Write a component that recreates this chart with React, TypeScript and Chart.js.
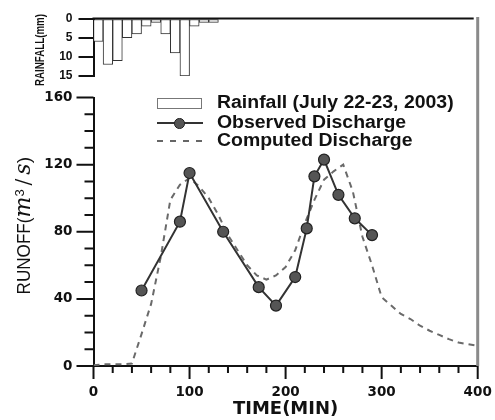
import React, { useEffect, useRef } from 'react';
import { Chart, registerables } from 'chart.js';

Chart.register(...registerables);

// ---- data ----
const rainTimes = [5, 15, 25, 35, 45, 55, 65, 75, 85, 95, 105, 115, 125];
const rainfall = [6, 12, 11, 5, 4, 2, 1, 4, 9, 15, 2, 1, 1];

const observedTimes = [50, 90, 100, 135, 172, 190, 210, 222, 230, 240, 255, 272, 290];
const observedRunoff = [45, 86, 115, 80, 47, 36, 53, 82, 113, 123, 102, 88, 78];

const computedTimes = [
  0, 10, 20, 30, 40, 50, 60, 70, 80, 90, 100, 110, 120, 130, 140, 150, 160, 170, 180, 190, 200,
  210, 220, 230, 240, 250, 260, 270, 280, 290, 300, 310, 320, 330, 340, 350, 360, 370, 380, 390, 400,
];
const computedRunoff = [
  0.5, 1, 1, 1, 1.5, 19, 37, 65, 99, 108, 112, 107, 100, 90, 78, 69, 60, 54, 51.5, 54, 59,
  69, 85, 99, 111, 116, 120, 104, 77, 60, 41, 36, 31, 28, 24, 21, 18.5, 16, 14, 13, 12,
];

const timeTicks = [0, 100, 200, 300, 400];
const timeMarks = [0, 20, 40, 60, 80, 100, 120, 140, 160, 180, 200, 220, 240, 260, 280, 300, 320, 340, 360, 380, 400];
const runoffTicks = [0, 40, 80, 120, 160];
const runoffMarks = [0, 10, 20, 30, 40, 50, 60, 70, 80, 90, 100, 110, 120, 130, 140, 150, 160];
const rainTicks = [0, 5, 10, 15];

const INK = '#111';
const tickFont = { family: '"DejaVu Sans", sans-serif', size: 13.5, weight: 'bold' as const };

const rainTopLine = {
  id: 'rainTopLine',
  afterDraw(chart: any) {
    const { ctx, chartArea: a, scales } = chart;
    const y0 = scales.y.getPixelForValue(0);
    ctx.save();
    ctx.strokeStyle = INK;
    ctx.lineWidth = 2;
    ctx.beginPath();
    ctx.moveTo(a.left - 1, y0);
    ctx.lineTo(a.right - 4, y0);
    ctx.stroke();
    ctx.restore();
  },
};

const mainMarks = {
  id: 'mainMarks',
  afterDraw(chart: any) {
    const { ctx, chartArea: a, scales } = chart;
    ctx.save();
    ctx.strokeStyle = INK;
    ctx.lineWidth = 2;
    ctx.beginPath();
    for (const v of runoffMarks) {
      const py = scales.y.getPixelForValue(v);
      const len = runoffTicks.includes(v) ? 17 : 9;
      ctx.moveTo(a.left - len, py);
      ctx.lineTo(a.left, py);
    }
    for (const v of timeMarks) {
      const px = scales.x.getPixelForValue(v);
      const len = timeTicks.includes(v) ? 13 : 7;
      ctx.moveTo(px, a.bottom);
      ctx.lineTo(px, a.bottom + len);
    }
    ctx.stroke();
    ctx.strokeStyle = '#8a8a8a';
    ctx.lineWidth = 3;
    ctx.beginPath();
    const rx = scales.x.getPixelForValue(400);
    ctx.moveTo(rx, 17);
    ctx.lineTo(rx, a.bottom);
    ctx.stroke();
    ctx.restore();
  },
};

export default function App() {
  const rainRef = useRef<HTMLCanvasElement>(null);
  const mainRef = useRef<HTMLCanvasElement>(null);

  useEffect(() => {
    const rainChart = new Chart(rainRef.current as HTMLCanvasElement, {
      type: 'bar',
      data: {
        datasets: [
          {
            label: 'Rainfall (July 22-23, 2003)',
            data: rainTimes.map((t, i) => ({ x: t, y: rainfall[i] })),
            backgroundColor: '#ffffff',
            borderColor: '#333333',
            borderWidth: 1,
            barPercentage: 1,
            categoryPercentage: 1,
            borderSkipped: false,
          } as any,
        ],
      },
      options: {
        responsive: false,
        animation: false,
        events: [],
        layout: { padding: { left: 0, right: 17.3, top: 18.5, bottom: 19 } },
        plugins: { legend: { display: false }, tooltip: { enabled: false } },
        scales: {
          x: { type: 'linear', min: 0, max: 400, display: false, offset: false },
          y: {
            min: 0,
            max: 15,
            reverse: true,
            afterBuildTicks: (s: any) => {
              s.ticks = rainTicks.map((v) => ({ value: v }));
            },
            afterFit: (s: any) => {
              s.width = 93.5;
            },
            ticks: {
              font: { family: '"Liberation Sans", Arial, sans-serif', size: 12, weight: 'bold' },
              color: INK,
              padding: 6,
            },
            grid: { display: true, drawOnChartArea: false, drawTicks: true, tickLength: 15, color: INK, lineWidth: 2 },
            border: { display: true, color: INK, width: 2 },
          },
        },
      } as any,
      plugins: [rainTopLine],
    });

    const mainChart = new Chart(mainRef.current as HTMLCanvasElement, {
      type: 'line',
      data: {
        datasets: [
          {
            label: 'Observed Discharge',
            data: observedTimes.map((t, i) => ({ x: t, y: observedRunoff[i] })),
            borderColor: '#333333',
            borderWidth: 2,
            pointRadius: 5.5,
            pointBackgroundColor: '#555555',
            pointBorderColor: '#222222',
            pointBorderWidth: 1.2,
            tension: 0,
          },
          {
            label: 'Computed Discharge',
            data: computedTimes.map((t, i) => ({ x: t, y: computedRunoff[i] })),
            borderColor: '#6a6a6a',
            borderWidth: 2,
            borderDash: [6, 5],
            pointRadius: 0,
            tension: 0,
          },
        ],
      },
      options: {
        responsive: false,
        animation: false,
        events: [],
        layout: { padding: { left: 0, right: 17.3, top: 97.5, bottom: 0 } },
        plugins: { legend: { display: false }, tooltip: { enabled: false } },
        scales: {
          x: {
            type: 'linear',
            min: 0,
            max: 400,
            afterBuildTicks: (s: any) => {
              s.ticks = timeTicks.map((v) => ({ value: v }));
            },
            afterFit: (s: any) => {
              s.height = 54;
            },
            ticks: { font: tickFont, color: INK, padding: 2, maxRotation: 0, autoSkip: false },
            grid: { display: false, drawTicks: true, tickLength: 16 },
            border: { display: true, color: INK, width: 2 },
            title: {
              display: true,
              text: 'TIME(MIN)',
              font: { family: '"DejaVu Sans", sans-serif', size: 18, weight: 'bold' },
              color: INK,
              padding: { top: 0, bottom: 0 },
            },
          },
          y: {
            min: 0,
            max: 160,
            afterBuildTicks: (s: any) => {
              s.ticks = runoffTicks.map((v) => ({ value: v }));
            },
            afterFit: (s: any) => {
              s.width = 93.5;
            },
            ticks: { font: tickFont, color: INK, padding: 21 },
            grid: { display: false, drawTicks: false },
            border: { display: true, color: INK, width: 2 },
          },
        },
      } as any,
      plugins: [mainMarks],
    });

    return () => {
      rainChart.destroy();
      mainChart.destroy();
    };
  }, []);

  const legendText: React.CSSProperties = {
    position: 'absolute',
    left: 217,
    font: 'bold 18px "Liberation Sans", Arial, sans-serif',
    lineHeight: '18px',
    color: INK,
    whiteSpace: 'nowrap',
    transform: 'scaleX(1.08)',
    transformOrigin: 'left center',
  };

  return (
    <div style={{ position: 'fixed', left: 0, top: 0, width: 495, height: 420, background: '#fff', overflow: 'hidden' }}>
      <canvas ref={mainRef} width={495} height={420} style={{ position: 'absolute', left: 0, top: 0, width: 495, height: 420 }} />
      <canvas ref={rainRef} width={495} height={95} style={{ position: 'absolute', left: 0, top: 0, width: 495, height: 95 }} />

      {/* rainfall axis title */}
      <div
        style={{
          position: 'absolute',
          left: 40,
          top: 50,
          transform: 'translate(-50%, -50%) rotate(-90deg) scaleX(0.75)',
          font: 'bold 13px "Liberation Sans", Arial, sans-serif',
          color: INK,
          whiteSpace: 'nowrap',
          lineHeight: '14px',
        }}
      >
        RAINFALL(mm)
      </div>

      {/* runoff axis title */}
      <div
        style={{
          position: 'absolute',
          left: 23,
          top: 230,
          transform: 'translate(-50%, -50%) rotate(-90deg)',
          font: '19px "Liberation Sans", Arial, sans-serif',
          color: INK,
          whiteSpace: 'nowrap',
          lineHeight: '22px',
        }}
      >
        <span style={{ display: 'inline-block', transform: 'scaleX(0.9)', transformOrigin: 'right center' }}>RUNOFF(</span>
        <span style={{ fontFamily: '"DejaVu Serif", serif', fontStyle: 'italic', fontSize: 22 }}>m</span>
        <sup style={{ fontSize: 13, verticalAlign: 'top', position: 'relative', top: -3 }}>3</sup>
        <span style={{ fontFamily: '"DejaVu Serif", serif', fontSize: 20 }}>&thinsp;/&thinsp;</span>
        <span style={{ fontFamily: '"DejaVu Serif", serif', fontStyle: 'italic', fontSize: 22 }}>s</span>
        <span>)</span>
      </div>

      {/* legend */}
      <div style={{ position: 'absolute', left: 157, top: 98, width: 43, height: 9, border: '1.5px solid #777', background: '#fff' }} />
      <div style={{ ...legendText, top: 101.5 - 8.8 }}>Rainfall (July 22-23, 2003)</div>

      <div style={{ position: 'absolute', left: 157, top: 122.3, width: 46, height: 2, background: '#333' }} />
      <div
        style={{
          position: 'absolute',
          left: 179 - 5,
          top: 123.3 - 5,
          width: 8.6,
          height: 8.6,
          borderRadius: '50%',
          background: '#555',
          border: '1.2px solid #222',
        }}
      />
      <div style={{ ...legendText, top: 121.5 - 8.8 }}>Observed Discharge</div>

      {[157, 170, 183, 196].map((x) => (
        <div key={x} style={{ position: 'absolute', left: x, top: 140.2, width: 6, height: 2, background: '#666' }} />
      ))}
      <div style={{ ...legendText, top: 139.5 - 8.8 }}>Computed Discharge</div>
    </div>
  );
}
